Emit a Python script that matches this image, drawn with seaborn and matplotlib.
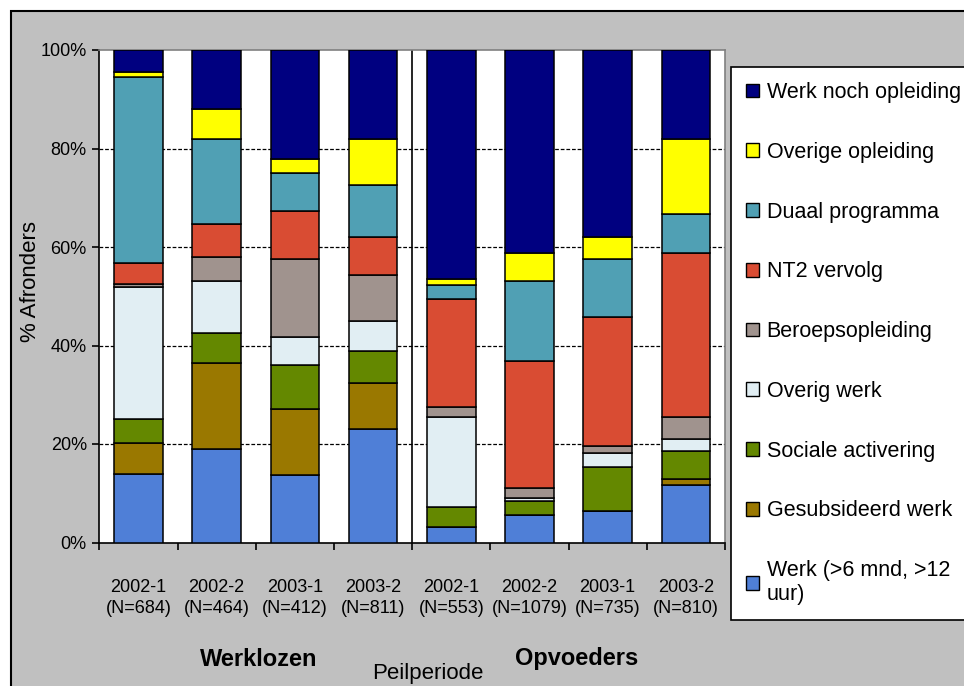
import numpy as np
import seaborn as sns
import matplotlib
matplotlib.use("Agg")
import matplotlib.pyplot as plt
from matplotlib.patches import Patch, Rectangle
from matplotlib.ticker import FixedLocator, PercentFormatter

# peilperiodes: 4 voor werklozen, 4 voor opvoeders
periods = ["2002-1", "2002-2", "2003-1", "2003-2", "2002-1", "2002-2", "2003-1", "2003-2"]
n_obs = [684, 464, 412, 811, 553, 1079, 735, 810]
groups = ["Werklozen", "Opvoeders"]

# percentages per categorie (van onder naar boven gestapeld)
werk = [14.0, 19.0, 13.7, 23.1, 3.1, 5.6, 6.4, 11.7]
gesubsidieerd = [6.2, 17.5, 13.4, 9.3, 0.0, 0.0, 0.0, 1.2]
sociale = [4.9, 6.1, 9.0, 6.5, 4.1, 2.9, 9.0, 5.7]
overig_werk = [26.8, 10.5, 5.7, 6.1, 18.3, 0.6, 2.8, 2.4]
beroeps = [0.6, 4.9, 15.7, 9.4, 2.1, 1.9, 1.3, 4.5]
nt2 = [4.3, 6.6, 9.8, 7.7, 21.9, 25.9, 26.3, 33.3]
duaal = [37.7, 17.4, 7.8, 10.5, 2.8, 16.2, 11.8, 7.8]
overige_opl = [1.0, 6.0, 2.8, 9.3, 1.2, 5.7, 4.4, 15.3]
werk_noch = [4.5, 12.0, 22.1, 18.1, 46.5, 41.2, 38.0, 18.1]

series_names = ["Werk (>6 mnd, >12\nuur)", "Gesubsideerd werk", "Sociale activering",
                "Overig werk", "Beroepsopleiding", "NT2 vervolg", "Duaal programma",
                "Overige opleiding", "Werk noch opleiding"]
series = [werk, gesubsidieerd, sociale, overig_werk, beroeps, nt2, duaal, overige_opl, werk_noch]
colors = ["#4F7FD7", "#9A7800", "#648800", "#E1EEF3", "#A0938E",
          "#D94C33", "#50A0B4", "#FFFF00", "#000080"]

sns.set_style("white")
plt.rcParams["font.family"] = ["Liberation Sans", "DejaVu Sans"]
plt.rcParams["text.color"] = "black"
plt.rcParams["xtick.color"] = "black"
plt.rcParams["ytick.color"] = "black"
plt.rcParams["axes.labelcolor"] = "black"

labels = [f"{p}\n(N={n})" for p, n in zip(periods, n_obs)]

W, H = 964, 686
fig = plt.figure(figsize=(W / 100, H / 100), dpi=100, facecolor="white")

# grijze grafiekruimte met zwarte rand
fig.add_artist(Rectangle((11 / W, -0.1), 1.2, 1 - 11 / H + 0.1, transform=fig.transFigure,
                         facecolor="#C0C0C0", edgecolor="black", linewidth=1.5, zorder=-10))

ax = fig.add_axes([99.3 / W, 1 - 542.5 / H, (725 - 99.3) / W, (542.5 - 50) / H])
ax.set_facecolor("white")

bottom = np.zeros(len(labels))
for name, vals, col in zip(series_names, series, colors):
    sns.barplot(x=labels, y=vals, order=labels, bottom=bottom, color=col, width=0.62,
                edgecolor="black", linewidth=1.1, saturation=1, errorbar=None, ax=ax, zorder=3)
    bottom = bottom + np.array(vals)

ax.set_xlim(-0.5, 7.5)
ax.set_ylim(0, 100)
ax.set_xlabel("")
ax.set_ylabel("")

for y in [20, 40, 60, 80]:
    ax.axhline(y, color="black", linestyle=(0, (3, 1.5)), linewidth=0.9, zorder=1)
ax.axvline(3.5, color="black", linewidth=1.2, zorder=2)

for s in ["left", "bottom"]:
    ax.spines[s].set_color("black")
    ax.spines[s].set_linewidth(1.2)
for s in ["top", "right"]:
    ax.spines[s].set_color("#808080")
    ax.spines[s].set_linewidth(1.2)

ax.yaxis.set_major_locator(FixedLocator([0, 20, 40, 60, 80, 100]))
ax.yaxis.set_major_formatter(PercentFormatter(decimals=0))
ax.tick_params(axis="y", direction="out", length=5, width=1.2, colors="black", labelsize=13, pad=4, left=True)

ax.set_xticks(range(len(labels)))
ax.set_xticklabels(labels)
ax.set_xticks(np.arange(-0.5, len(labels), 1), minor=True)
ax.tick_params(axis="x", which="major", length=0, labelsize=13, pad=26, labelcolor="black")
ax.tick_params(axis="x", which="minor", direction="out", length=5, width=1.2, color="black", bottom=True)
for t in ax.get_xticklabels():
    t.set_linespacing(1.3)

fig.text(31 / W, 1 - 282 / H, "% Afronders", rotation=90, ha="center", va="center", fontsize=16)
fig.text(259 / W, 1 - 659 / H, groups[0], ha="center", va="center", fontsize=17, fontweight="bold")
fig.text(577 / W, 1 - 659 / H, groups[1], ha="center", va="center", fontsize=17, fontweight="bold")
fig.text(428 / W, 1 - 674 / H, "Peilperiode", ha="center", va="center", fontsize=16)

handles = [Patch(facecolor=c, edgecolor="black", linewidth=1.0) for c in colors][::-1]
leg = fig.legend(handles, series_names[::-1], loc="upper left", bbox_to_anchor=(731 / W, 1 - 67 / H),
                 frameon=True, fancybox=False, edgecolor="black", framealpha=1, fontsize=15.5,
                 handlelength=0.6, handleheight=0.6, handletextpad=0.35, labelspacing=1.8,
                 borderpad=0.7, borderaxespad=0)
leg.get_frame().set_linewidth(1.2)

fig.savefig("out.png", dpi=100)
